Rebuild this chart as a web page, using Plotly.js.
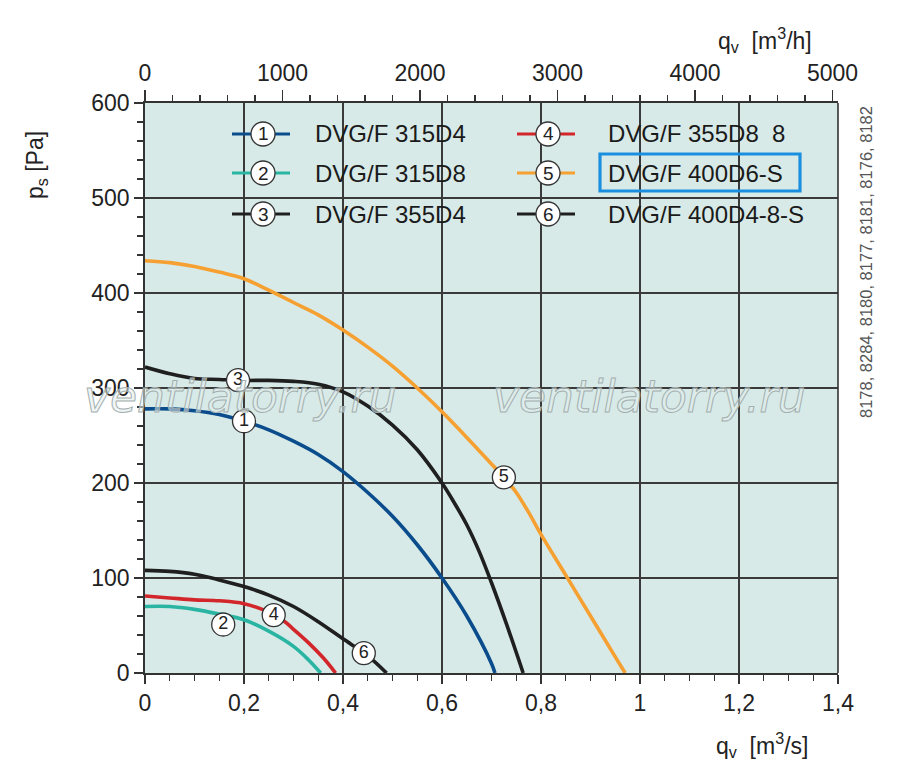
<!DOCTYPE html>
<html>
<head>
<meta charset="utf-8">
<script src="https://cdn.plot.ly/plotly-3.0.1.min.js"></script>
<style>body{margin:0;background:#fff;} #chart{width:900px;height:781px;}</style>
</head>
<body>
<div id="chart"></div>
<script>
// ---- data (qv in m3/s, ps in Pa) ----
const names = ["DVG/F 315D4", "DVG/F 315D8", "DVG/F 355D4", "DVG/F 355D8  8", "DVG/F 400D6-S", "DVG/F 400D4-8-S"];
const numbers = ["1", "2", "3", "4", "5", "6"];

const q1 = [0, 0.05, 0.1, 0.15, 0.2, 0.25, 0.3, 0.35, 0.4, 0.45, 0.5, 0.55, 0.6, 0.65, 0.7, 0.707];
const p1 = [278, 278, 276, 272, 265, 256, 244, 230, 212, 190, 165, 135, 100, 60, 10, 0];

const q2 = [0, 0.05, 0.1, 0.15, 0.2, 0.25, 0.3, 0.33, 0.355];
const p2 = [70, 70, 67, 62, 56, 44, 28, 14, 0];

const q3 = [0, 0.05, 0.1, 0.15, 0.2, 0.25, 0.3, 0.35, 0.4, 0.45, 0.5, 0.55, 0.6, 0.625, 0.65, 0.675, 0.7, 0.73, 0.764];
const p3 = [322, 315, 310, 309, 308, 308, 307, 304, 296, 281, 261, 235, 200, 179, 156, 128, 95, 52, 0];

const q4 = [0, 0.05, 0.1, 0.15, 0.2, 0.25, 0.28, 0.3, 0.33, 0.36, 0.385];
const p4 = [81, 79, 77, 76, 73, 64, 55, 46, 32, 16, 0];

const q5 = [0, 0.05, 0.1, 0.15, 0.2, 0.25, 0.3, 0.35, 0.4, 0.45, 0.5, 0.55, 0.6, 0.65, 0.7, 0.725, 0.75, 0.775, 0.8, 0.85, 0.9, 0.95, 0.97];
const p5 = [434, 432, 428, 422, 415, 403, 390, 377, 361, 343, 323, 300, 275, 248, 220, 206, 190, 169, 146, 103, 60, 17, 0];

const q6 = [0, 0.05, 0.1, 0.15, 0.2, 0.25, 0.3, 0.35, 0.4, 0.45, 0.488];
const p6 = [108, 107, 104, 98, 91, 82, 70, 54, 36, 18, 0];

// flow at which each number label sits on its curve
const labelQ = [0.2, 0.158, 0.188, 0.26, 0.725, 0.442];

// tick labels
const xTickVals = [0, 0.2, 0.4, 0.6, 0.8, 1, 1.2, 1.4];
const xTickText = ["0", "0,2", "0,4", "0,6", "0,8", "1", "1,2", "1,4"];
const topTickVals = [0, 1000, 2000, 3000, 4000, 5000];
const topTickText = ["0", "1000", "2000", "3000", "4000", "5000"];
const yTickVals = [0, 100, 200, 300, 400, 500, 600];

const colors = ["#0b4d8c", "#2ab5a3", "#1f1f1f", "#d3262b", "#f6a032", "#1f1f1f"];
const qs = [q1, q2, q3, q4, q5, q6];
const ps = [p1, p2, p3, p4, p5, p6];

function interp(xs, ys, x) {
  for (let i = 0; i < xs.length - 1; i++) {
    if (x >= xs[i] && x <= xs[i + 1]) {
      const t = (x - xs[i]) / (xs[i + 1] - xs[i]);
      return ys[i] + t * (ys[i + 1] - ys[i]);
    }
  }
  return ys[ys.length - 1];
}

const FONT = "Liberation Sans, Arial, sans-serif";
const traces = [];
[4, 0, 2, 1, 3, 5].forEach(i => {
  traces.push({
    x: qs[i], y: ps[i], type: "scatter", mode: "lines",
    line: {color: colors[i], width: 3.6, shape: "spline", smoothing: 1},
    hoverinfo: "skip", showlegend: false, xaxis: "x", yaxis: "y"
  });
});
// number labels on curves
const lx = labelQ.slice();
const ly = labelQ.map((q, i) => interp(qs[i], ps[i], q));
ly[1] = ly[1] - 10; // label 2 sits just below its curve
traces.push({
  x: lx, y: ly, type: "scatter", mode: "markers+text",
  text: numbers, textposition: "middle center",
  textfont: {family: FONT, size: 18, color: "#222"},
  marker: {size: 23, color: "#ffffff", line: {color: "#333", width: 1.3}},
  hoverinfo: "skip", showlegend: false, cliponaxis: false
});
// invisible trace on the top axis so it renders
traces.push({x: [0, 5040], y: [0, 0], xaxis: "x2", yaxis: "y", mode: "lines",
  line: {width: 0}, hoverinfo: "skip", showlegend: false, opacity: 0});

// ---- legend (drawn manually) ----
const shapes = [];
const annotations = [];
shapes.push({type: "rect", xref: "x", yref: "y", x0: 0.133, x1: 1.366, y0: 466, y1: 600,
  fillcolor: "#d7eae8", line: {width: 0}, layer: "below"});
const rowsPx = [134, 173, 214];
const colPx = [{l0: 232, l1: 290, c: 263, t: 313}, {l0: 517, l1: 575, c: 548, t: 606}];
const px2x = p => (p - 145) / 693;
const py2y = p => (673 - p) / 570;
for (let i = 0; i < 6; i++) {
  const col = colPx[Math.floor(i / 3)];
  const ry = py2y(rowsPx[i % 3]);
  shapes.push({type: "line", xref: "paper", yref: "paper", x0: px2x(col.l0), x1: px2x(col.l1), y0: ry, y1: ry,
    line: {color: colors[i], width: 3.2}, layer: "above"});
  shapes.push({type: "circle", xref: "paper", yref: "paper", xsizemode: "pixel", ysizemode: "pixel",
    xanchor: px2x(col.c), yanchor: ry, x0: -12, x1: 12, y0: -12, y1: 12,
    fillcolor: "#ffffff", line: {color: "#333", width: 1.3}, layer: "above"});
  annotations.push({xref: "paper", yref: "paper", x: px2x(col.c), y: ry, text: numbers[i], showarrow: false,
    font: {family: FONT, size: 19, color: "#222"}, xanchor: "center", yanchor: "middle"});
  annotations.push({xref: "paper", yref: "paper", x: px2x(col.t), y: ry, text: names[i], showarrow: false,
    font: {family: FONT, size: 24, color: "#1a1a1a"}, xanchor: "left", yanchor: "middle"});
}
// highlight box around DVG/F 400D6-S
shapes.push({type: "rect", xref: "paper", yref: "paper", x0: px2x(600), x1: px2x(800), y0: py2y(191), y1: py2y(154),
  line: {color: "#1a8fe0", width: 3.2}, fillcolor: "rgba(0,0,0,0)", layer: "above"});
// right-edge frame
shapes.push({type: "line", xref: "paper", yref: "paper", x0: 1, x1: 1, y0: 0, y1: 1,
  line: {color: "#333", width: 1.6}, layer: "above"});

// axis titles
annotations.push({xref: "paper", yref: "paper", x: px2x(36), y: py2y(165), text: "p<sub>s</sub> [Pa]", textangle: -90,
  showarrow: false, font: {family: FONT, size: 23, color: "#222"}, xanchor: "center", yanchor: "middle"});
annotations.push({xref: "paper", yref: "paper", x: px2x(765), y: py2y(40), text: "q<sub>v</sub>  [m<sup>3</sup>/h]",
  showarrow: false, font: {family: FONT, size: 23, color: "#222"}, xanchor: "center", yanchor: "middle"});
annotations.push({xref: "paper", yref: "paper", x: px2x(762), y: py2y(745), text: "q<sub>v</sub>  [m<sup>3</sup>/s]",
  showarrow: false, font: {family: FONT, size: 23, color: "#222"}, xanchor: "center", yanchor: "middle"});
// side code text
annotations.push({xref: "paper", yref: "paper", x: px2x(866), y: py2y(262), text: "8178, 8284, 8180, 8177, 8181, 8176, 8182",
  textangle: -90, showarrow: false, font: {family: FONT, size: 16.5, color: "#555"}, xanchor: "center", yanchor: "middle"});
// watermarks
annotations.push({xref: "paper", yref: "paper", x: px2x(240), y: py2y(396), text: "<i>ventilatorry.ru</i>",
  showarrow: false, font: {family: "DejaVu Sans, sans-serif", size: 44, color: "#e4eeed"}, xanchor: "center", yanchor: "middle"});
annotations.push({xref: "paper", yref: "paper", x: px2x(649), y: py2y(396), text: "<i>ventilatorry.ru</i>",
  showarrow: false, font: {family: "DejaVu Sans, sans-serif", size: 44, color: "#e4eeed"}, xanchor: "center", yanchor: "middle"});

const axisCommon = {
  showline: true, linecolor: "#333", linewidth: 1.8,
  gridcolor: "#3a3a3a", gridwidth: 1.1, zeroline: false,
  ticks: "outside", tickcolor: "#333", tickwidth: 1.3,
  tickfont: {family: FONT, size: 23, color: "#222"}
};

const layout = {
  width: 900, height: 781,
  margin: {l: 145, r: 62, t: 103, b: 108},
  paper_bgcolor: "#ffffff", plot_bgcolor: "#d7eae8",
  separators: ", ",
  showlegend: false,
  xaxis: Object.assign({}, axisCommon, {
    range: [0, 1.4], tickvals: xTickVals, ticktext: xTickText, ticklen: 9,
    minor: {dtick: 0.05, ticklen: 6, tickcolor: "#333", showgrid: false, ticks: "outside"},
    showgrid: true
  }),
  xaxis2: Object.assign({}, axisCommon, {
    overlaying: "x", side: "top", anchor: "y", range: [0, 5040],
    tickvals: topTickVals, ticktext: topTickText, ticklen: 11, showgrid: false,
    minor: {dtick: 200, ticklen: 6, tickcolor: "#333", showgrid: false, ticks: "outside"}
  }),
  yaxis: Object.assign({}, axisCommon, {
    range: [0, 600], tickvals: yTickVals, ticklen: 9, showgrid: true,
    minor: {dtick: 20, ticklen: 6, tickcolor: "#333", showgrid: false, ticks: "outside"}
  }),
  shapes: shapes,
  annotations: annotations
};

Plotly.newPlot("chart", traces, layout, {staticPlot: true}).then(() => {
  document.querySelectorAll(".annotation-text").forEach(el => {
    if (el.textContent.indexOf("ventilatorry") >= 0) {
      el.style.stroke = "#a3afae";
      el.style.strokeWidth = "1px";
      el.style.fillOpacity = "0.55";
    }
  });
});
</script>
</body>
</html>
